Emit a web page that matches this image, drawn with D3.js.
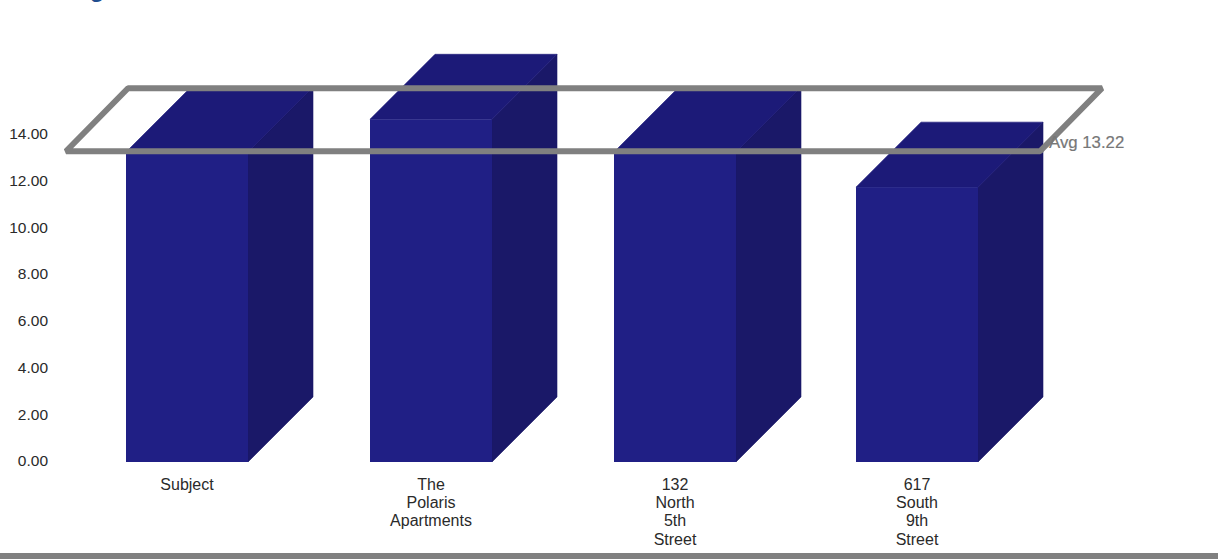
<!DOCTYPE html>
<html><head><meta charset="utf-8">
<script src="https://cdn.jsdelivr.net/npm/d3@7"></script>
<style>html,body{margin:0;padding:0;background:#fff;overflow:hidden}svg{display:block}text{font-family:"Liberation Sans",Arial,sans-serif}</style>
</head><body><svg id="c" width="1218" height="559"></svg>
<script>
const categories=[["Subject"],["The","Polaris","Apartments"],["132","North","5th","Street"],["617","South","9th","Street"]];
const values=[13.25,14.65,13.25,11.75];
const yTicks=[0,2,4,6,8,10,12,14];
const avgValue=13.22;
const avgLabel="Avg 13.22";

const W=1218,H=559,depth=65,barW=122;
const svg=d3.select("#c");
const y=d3.scaleLinear().domain([0,14]).range([462,134.5]);
const x=d3.scalePoint().domain(d3.range(categories.length)).range([126,858]);

svg.append("rect").attr("x",0).attr("y",553).attr("width",W).attr("height",6).attr("fill","#808080");
svg.append("text").attr("x",60).attr("y",-3).attr("font-size",24).attr("font-weight","bold").attr("fill","#1f4e8f").text("Avg");

const axis=d3.axisLeft(y).tickValues(yTicks).tickFormat(d3.format(".2f")).tickSize(0);
const ag=svg.append("g").attr("transform","translate(48,-1)").call(axis);
ag.select(".domain").remove();
ag.selectAll("text").attr("font-size",15.5).attr("fill","#2a2a2a").attr("font-family","Liberation Sans,Arial,sans-serif").attr("x",0).attr("text-anchor","end");

const g=svg.append("g");
values.forEach((v,i)=>{
  const x0=i===3?856:x(i),x1=x0+barW,yt=y(v),yb=y(0);
  g.append("path").attr("d",`M${x1},${yt}L${x1+depth},${yt-depth}L${x1+depth},${yb-depth}L${x1},${yb}Z`).attr("fill","#1a1868").attr("stroke","#1a1868").attr("stroke-width",0.6);
  g.append("path").attr("d",`M${x0},${yt}L${x0+depth},${yt-depth}L${x1+depth},${yt-depth}L${x1},${yt}Z`).attr("fill","#1c1a78").attr("stroke","#1c1a78").attr("stroke-width",0.6);
  g.append("rect").attr("x",x0).attr("y",yt).attr("width",barW).attr("height",yb-yt).attr("fill","#201f85");
  const t=svg.append("text").attr("text-anchor","middle").attr("font-size",16).attr("fill","#2a2a2a");
  categories[i].forEach((s,k)=>t.append("tspan").attr("x",x0+61).attr("y",489.5+k*18.4).text(s));
});

const ya=y(avgValue)-1.5;
svg.append("path").attr("d",`M66,${ya}L128,${ya-63}L1102,${ya-63}L1040,${ya}Z`).attr("fill","none").attr("stroke","#808080").attr("stroke-width",6).attr("stroke-linejoin","bevel");
svg.append("text").attr("x",1049).attr("y",147.5).attr("font-size",16.8).attr("fill","#777").attr("stroke","#777").attr("stroke-width",0.2).text(avgLabel);
</script></body></html>
